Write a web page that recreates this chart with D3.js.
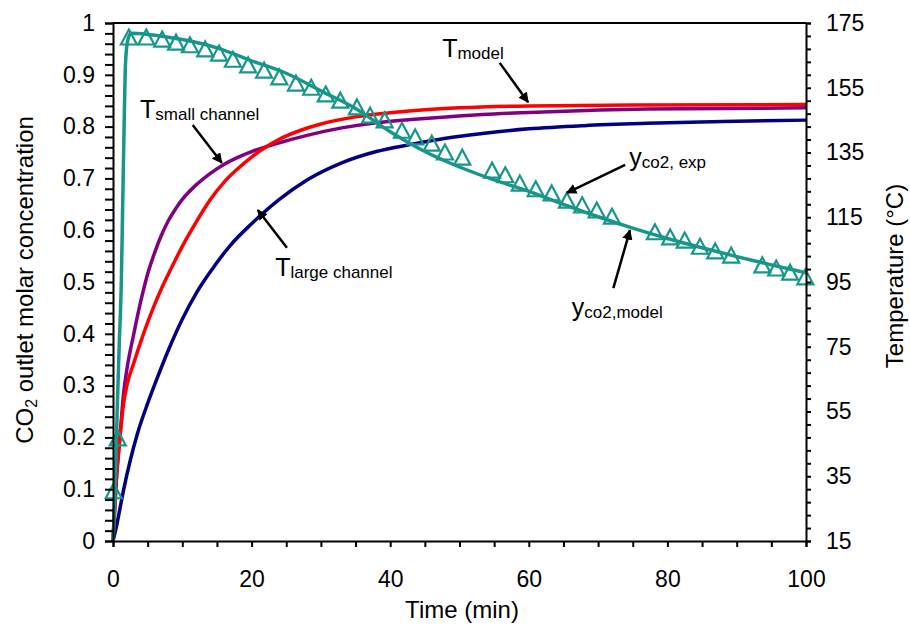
<!DOCTYPE html>
<html>
<head>
<meta charset="utf-8">
<script src="https://cdn.jsdelivr.net/npm/d3@7"></script>
<style>
  body { margin: 0; background: #fff; }
  svg { font-family: "Liberation Sans", Arial, sans-serif; }
</style>
</head>
<body>
<div id="chart"></div>
<script>
/* CONSTANTS AND GLOBALS */
const width = 910,
  height = 643,
  margin = { top: 23, bottom: 102, left: 113, right: 104 };

// CO2 outlet concentration, experiment (triangles)
const expTime = [0.1, 0.7, 2.3, 4.8, 7.1, 9.1, 11.1, 13.3, 15.3, 17.3, 19.5, 21.8, 24.0, 26.4,
  28.6, 30.7, 32.8, 35.2, 37.1, 39.2, 41.7, 43.6, 46.0, 47.9, 50.4, 54.7, 56.6, 58.7, 61.0,
  63.3, 65.5, 67.7, 69.8, 72.0, 78.2, 80.4, 82.5, 84.7, 86.9, 89.2, 93.7, 95.7, 97.7, 99.9];
const expConc = [0.097, 0.199, 0.973, 0.973, 0.969, 0.963, 0.958, 0.950, 0.942, 0.930, 0.919,
  0.909, 0.896, 0.884, 0.876, 0.863, 0.851, 0.838, 0.822, 0.813, 0.793, 0.780, 0.768, 0.751,
  0.741, 0.716, 0.707, 0.691, 0.680, 0.672, 0.658, 0.649, 0.639, 0.627, 0.597, 0.587, 0.581,
  0.569, 0.560, 0.552, 0.533, 0.527, 0.519, 0.510];

// CO2 outlet concentration, model
const modelTime = [0, 0.3, 0.6, 0.9, 1.2, 1.4, 1.6, 1.8, 2.1, 2.6, 5, 10, 15, 20, 25, 30, 35,
  40, 45, 50, 55, 60, 65, 70, 75, 80, 85, 90, 95, 100];
const modelConc = [0, 0.1, 0.25, 0.38, 0.5, 0.65, 0.8, 0.92, 0.965, 0.98, 0.978, 0.968, 0.952,
  0.927, 0.903, 0.869, 0.835, 0.79, 0.752, 0.722, 0.697, 0.675, 0.65, 0.626, 0.604, 0.584,
  0.566, 0.549, 0.533, 0.518];

// Temperatures (°C)
const tModelTime = [0, 0.5, 1, 1.5, 2, 3, 4, 5, 6, 7, 8, 9, 10, 12, 14, 16, 18, 20, 22, 24,
  27, 30, 35, 40, 45, 50, 60, 75, 100];
const tModel = [15, 35, 47, 57, 63, 70, 76.5, 82.5, 88, 93, 97.5, 101.8, 106, 113.5, 120.3,
  125.8, 130, 133.6, 136.6, 139.1, 141.8, 143.8, 146, 147.3, 148.2, 148.8, 149.4, 149.7, 149.8];

const tSmallTime = [0, 0.5, 1, 1.5, 2, 3, 4, 5, 6, 7, 8, 9, 10, 12, 14, 16, 18, 20, 24, 28, 33,
  38, 43, 48, 55, 62, 77, 100];
const tSmall = [15, 34, 47, 60, 68, 79, 89, 97.5, 104, 109.5, 114, 117.5, 120.5, 125, 128.5,
  131.3, 133.5, 135.3, 138, 140.3, 142.6, 144.2, 145.2, 146, 146.9, 147.5, 148.4, 148.8];

const tLargeTime = [0, 0.5, 1, 1.5, 2.5, 3.5, 5, 6.5, 8, 10, 12, 14, 17, 20, 24, 28, 33, 38,
  43, 48, 53, 60, 68, 77, 88, 100];
const tLarge = [15, 19.5, 25, 30.5, 40, 48, 57.5, 66, 74, 83.5, 91.5, 98, 106.5, 113, 120.5,
  126.5, 131.8, 135.3, 137.5, 139.4, 140.8, 142.3, 143.3, 144, 144.6, 145];

const xTicks = d3.range(0, 100.01, 5);
const yTicks = d3.range(0, 1.0001, 0.02);
const tTicks = d3.range(15, 175.01, 4);

/* SCALES */
const x = d3.scaleLinear().domain([0, 100]).range([margin.left, width - margin.right]);
const y = d3.scaleLinear().domain([0, 1]).range([height - margin.bottom, margin.top]);
const yT = d3.scaleLinear().domain([15, 175]).range([height - margin.bottom, margin.top]);

const svg = d3.select("#chart").append("svg")
  .attr("width", width)
  .attr("height", height);

svg.append("defs").append("marker")
  .attr("id", "arrow")
  .attr("viewBox", "0 0 10 10")
  .attr("refX", 9).attr("refY", 5)
  .attr("markerWidth", 4.2).attr("markerHeight", 4.2)
  .attr("markerUnits", "strokeWidth")
  .attr("orient", "auto")
  .append("path")
  .attr("d", "M0,0L10,5L0,10z")
  .attr("fill", "#000");

/* LINES */
const zip = (a, b) => a.map((d, i) => [d, b[i]]);

const lineL = d3.line().x(d => x(d[0])).y(d => y(d[1])).curve(d3.curveMonotoneX);
const lineT = d3.line().x(d => x(d[0])).y(d => yT(d[1])).curve(d3.curveMonotoneX);

const teal = "#17968a";

svg.append("path").datum(zip(tLargeTime, tLarge))
  .attr("d", lineT).attr("fill", "none")
  .attr("stroke", "#000080").attr("stroke-width", 3.5);

svg.append("path").datum(zip(tSmallTime, tSmall))
  .attr("d", lineT).attr("fill", "none")
  .attr("stroke", "#800080").attr("stroke-width", 3.5);

svg.append("path").datum(zip(tModelTime, tModel))
  .attr("d", lineT).attr("fill", "none")
  .attr("stroke", "#ff0000").attr("stroke-width", 3.5);

svg.append("path").datum(zip(modelTime, modelConc))
  .attr("d", lineL).attr("fill", "none")
  .attr("stroke", teal).attr("stroke-width", 3.5);

// open triangle markers, a bit taller than equilateral like the original
svg.append("g")
  .selectAll("path")
  .data(zip(expTime, expConc))
  .join("path")
  .attr("transform", d => `translate(${x(d[0])},${y(d[1])})`)
  .attr("d", "M0,-7.5L8,7.5L-8,7.5Z")
  .attr("fill", "none")
  .attr("stroke", teal)
  .attr("stroke-width", 2.2);

/* AXES */
const fmtL = d => {
  const r = Math.round(d * 100) / 100;
  return Math.abs(r * 10 - Math.round(r * 10)) < 1e-6 ? String(r) : "";
};

const gx = svg.append("g")
  .attr("transform", `translate(0,${height - margin.bottom})`)
  .call(d3.axisBottom(x).tickValues(xTicks).tickSize(6).tickPadding(24)
    .tickFormat(d => d % 20 === 0 ? d : ""));

const gy = svg.append("g")
  .attr("transform", `translate(${margin.left},0)`)
  .call(d3.axisLeft(y).tickValues(yTicks).tickSize(8).tickPadding(10).tickFormat(fmtL));

const gt = svg.append("g")
  .attr("transform", `translate(${width - margin.right},0)`)
  .call(d3.axisRight(yT).tickValues(tTicks).tickSize(5).tickPadding(15)
    .tickFormat(d => (d - 15) % 20 === 0 ? d : ""));

[gx, gy, gt].forEach(g => {
  g.selectAll("path.domain").attr("stroke", "#000").attr("stroke-width", 2);
  g.selectAll(".tick line").attr("stroke", "#000").attr("stroke-width", 2);
  g.selectAll(".tick text").attr("fill", "#000").attr("font-size", 23)
    .attr("font-family", "Liberation Sans, Arial, sans-serif");
});

// top border of the plot frame
svg.append("line")
  .attr("x1", x(0)).attr("x2", x(100))
  .attr("y1", y(1)).attr("y2", y(1))
  .attr("stroke", "#000").attr("stroke-width", 2);

/* AXIS TITLES */
svg.append("text")
  .attr("x", 462).attr("y", 618)
  .attr("text-anchor", "middle").attr("font-size", 24)
  .text("Time (min)");

const yTitle = svg.append("text")
  .attr("transform", "translate(33,280) rotate(-90)")
  .attr("text-anchor", "middle").attr("font-size", 24);
yTitle.append("tspan").text("CO");
yTitle.append("tspan").attr("font-size", 16).attr("dy", 4).text("2");
yTitle.append("tspan").attr("dy", -4).text(" outlet molar concentration");

svg.append("text")
  .attr("transform", "translate(903,276) rotate(-90)")
  .attr("text-anchor", "middle").attr("font-size", 24)
  .text("Temperature (°C)");

/* ANNOTATIONS (positions in data units) */
const notes = [
  { main: "T", sub: "model", at: [47.5, 0.934], from: [55.8, 0.923], to: [59.9, 0.847] },
  { main: "T", sub: "small channel", at: [3.9, 0.817], from: [11.5, 0.803], to: [15.7, 0.730] },
  { main: "T", sub: "large channel", at: [23.4, 0.512], from: [25.1, 0.566], to: [20.9, 0.639] },
  { main: "y", sub: "co2, exp", at: [74.5, 0.724], from: [73.9, 0.726], to: [65.5, 0.672] },
  { main: "y", sub: "co2,model", at: [66.2, 0.434], from: [72.2, 0.488], to: [74.6, 0.600] }
];

notes.forEach(n => {
  svg.append("line")
    .attr("x1", x(n.from[0])).attr("y1", y(n.from[1]))
    .attr("x2", x(n.to[0])).attr("y2", y(n.to[1]))
    .attr("stroke", "#000").attr("stroke-width", 2.5)
    .attr("marker-end", "url(#arrow)");
  const t = svg.append("text")
    .attr("x", x(n.at[0])).attr("y", y(n.at[1]))
    .attr("font-size", 25);
  t.append("tspan").text(n.main);
  t.append("tspan").attr("font-size", 17).attr("dy", 2).text(n.sub);
});
</script>
</body>
</html>
